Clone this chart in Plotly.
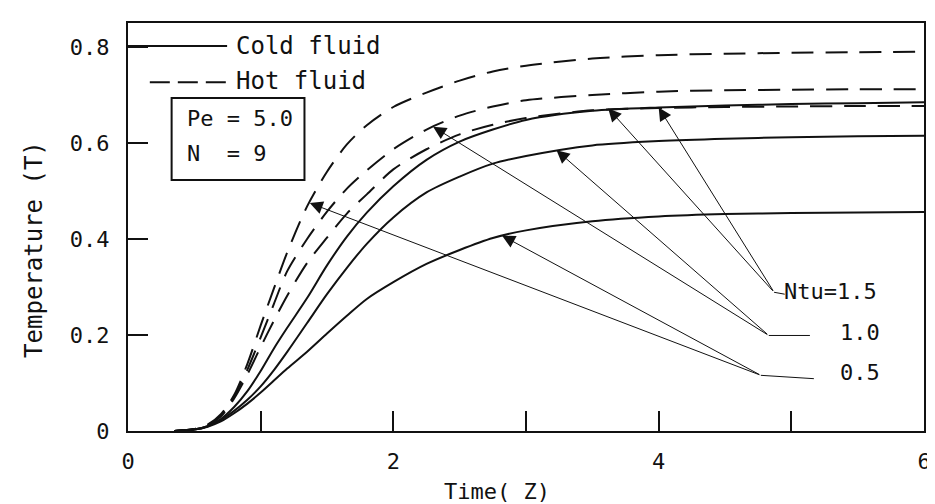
import plotly.graph_objects as go

# Time (Z) sample points
z = [0.35, 0.5, 0.6, 0.7, 0.8, 0.9, 1.0, 1.1, 1.2, 1.35, 1.5, 1.65, 1.8, 2.0,
     2.25, 2.5, 2.75, 3.0, 3.5, 4.0, 4.5, 5.0, 5.5, 6.0]

# Cold fluid (solid) temperatures for Ntu = 0.5, 1.0, 1.5
cold_05 = [0, 0.003, 0.009, 0.02, 0.037, 0.057, 0.08, 0.105, 0.13, 0.165, 0.203, 0.24,
           0.275, 0.31, 0.348, 0.377, 0.402, 0.418, 0.437, 0.447, 0.452, 0.454, 0.455, 0.456]
cold_10 = [0, 0.003, 0.01, 0.023, 0.042, 0.065, 0.093, 0.127, 0.165, 0.225, 0.285, 0.34,
           0.39, 0.445, 0.497, 0.53, 0.557, 0.573, 0.595, 0.604, 0.609, 0.612, 0.614, 0.615]
cold_15 = [0, 0.003, 0.01, 0.025, 0.05, 0.083, 0.125, 0.172, 0.215, 0.277, 0.345, 0.405,
           0.455, 0.51, 0.565, 0.603, 0.628, 0.648, 0.667, 0.674, 0.678, 0.681, 0.683, 0.685]

# Hot fluid (dashed) temperatures for Ntu = 0.5, 1.0, 1.5
hot_05 = [0, 0.004, 0.013, 0.035, 0.075, 0.14, 0.22, 0.297, 0.372, 0.468, 0.54, 0.597,
          0.637, 0.675, 0.705, 0.73, 0.749, 0.761, 0.776, 0.783, 0.786, 0.788, 0.789, 0.79]
hot_10 = [0, 0.004, 0.012, 0.032, 0.072, 0.128, 0.195, 0.265, 0.333, 0.4, 0.457, 0.505,
          0.543, 0.587, 0.628, 0.657, 0.676, 0.689, 0.7, 0.707, 0.71, 0.711, 0.712, 0.712]
hot_15 = [0, 0.004, 0.012, 0.03, 0.068, 0.118, 0.175, 0.23, 0.282, 0.35, 0.403, 0.453,
          0.493, 0.545, 0.587, 0.618, 0.638, 0.652, 0.668, 0.673, 0.675, 0.676, 0.677, 0.677]

# Ntu labels with leader lines (arrow tips on curves, hub, label end)
ntu_labels = ["Ntu=1.5", "1.0", "0.5"]
tip_x = [[3.62, 4.0], [2.30, 3.23], [1.37, 2.82]]
tip_y = [[0.672, 0.674], [0.634, 0.585], [0.475, 0.407]]
hub_x = [4.87, 4.83, 4.77]
hub_y = [0.289, 0.199, 0.116]
end_x = [4.95, 5.14, 5.17]
end_y = [0.285, 0.199, 0.109]
lab_x = [4.93, 5.52, 5.52]
lab_y = [0.29, 0.206, 0.122]

x_tickvals = [0, 1, 2, 3, 4, 5, 6]
x_ticktext = ["0", "", "2", "", "4", "", "6"]
y_tickvals = [0, 0.2, 0.4, 0.6, 0.8]
y_ticktext = ["0", "0.2", "0.4", "0.6", "0.8"]

FONT = "DejaVu Sans Mono, Liberation Mono, monospace"
INK = "#111111"

fig = go.Figure()

for ys in (cold_05, cold_10, cold_15):
    fig.add_trace(go.Scatter(x=z, y=ys, mode="lines", showlegend=False,
                             line=dict(color=INK, width=2, shape="spline", smoothing=0.8)))
for ys in (hot_05, hot_10, hot_15):
    fig.add_trace(go.Scatter(x=z, y=ys, mode="lines", showlegend=False,
                             line=dict(color=INK, width=2, dash="22px,12px",
                                       shape="spline", smoothing=0.8)))

annotations = []
for i, lab in enumerate(ntu_labels):
    # short horizontal leader from hub to the label
    fig.add_trace(go.Scatter(x=[hub_x[i], end_x[i]], y=[hub_y[i], end_y[i]], mode="lines",
                             showlegend=False, line=dict(color=INK, width=1)))
    for tx, ty in zip(tip_x[i], tip_y[i]):
        annotations.append(dict(x=tx, y=ty, ax=hub_x[i], ay=hub_y[i], xref="x", yref="y",
                                axref="x", ayref="y", text="", showarrow=True,
                                arrowhead=2, arrowsize=2.6, arrowwidth=1, arrowcolor=INK,
                                standoff=0))
    annotations.append(dict(x=lab_x[i], y=lab_y[i], xref="x", yref="y", text=lab,
                            showarrow=False, xanchor="left" if i == 0 else "center",
                            yanchor="middle", font=dict(family=FONT, size=22, color=INK)))

# legend (custom, like the original)
shapes = [
    dict(type="line", xref="paper", yref="paper", x0=0.0, x1=0.1245, y0=0.9436, y1=0.9436,
         line=dict(color=INK, width=2)),
    dict(type="line", xref="paper", yref="paper", x0=0.0274, x1=0.1245, y0=0.855, y1=0.855,
         line=dict(color=INK, width=2, dash="20px,8px")),
    dict(type="rect", xref="paper", yref="paper", x0=0.0548, x1=0.2217, y0=0.615, y1=0.816,
         line=dict(color=INK, width=2)),
]
annotations += [
    dict(x=0.133, y=0.9436, xref="paper", yref="paper", text="Cold fluid", showarrow=False,
         xanchor="left", yanchor="middle", font=dict(family=FONT, size=24, color=INK)),
    dict(x=0.133, y=0.857, xref="paper", yref="paper", text="Hot fluid", showarrow=False,
         xanchor="left", yanchor="middle", font=dict(family=FONT, size=24, color=INK)),
    dict(x=0.072, y=0.766, xref="paper", yref="paper", text="Pe = 5.0", showarrow=False,
         xanchor="left", yanchor="middle", font=dict(family=FONT, size=22, color=INK)),
    dict(x=0.072, y=0.68, xref="paper", yref="paper", text="N\u00a0\u00a0= 9", showarrow=False,
         xanchor="left", yanchor="middle", font=dict(family=FONT, size=22, color=INK)),
    dict(x=0.463, y=-0.148, xref="paper", yref="paper", text="Time( Z)", showarrow=False,
         xanchor="center", yanchor="middle", font=dict(family=FONT, size=22, color=INK)),
    dict(x=-0.118, y=0.444, xref="paper", yref="paper", text="Temperature (T)", showarrow=False,
         textangle=-90, xanchor="center", yanchor="middle",
         font=dict(family=FONT, size=24, color=INK)),
]

fig.update_layout(
    width=935, height=504,
    margin=dict(l=120, r=12, t=15, b=81),
    paper_bgcolor="white", plot_bgcolor="white",
    shapes=shapes, annotations=annotations,
    font=dict(family=FONT, size=22, color=INK),
)
fig.update_xaxes(range=[0, 6], tickvals=x_tickvals, ticktext=x_ticktext,
                 ticks="inside", ticklen=20, tickwidth=2, tickcolor=INK,
                 showline=True, linewidth=2, linecolor=INK, mirror=True,
                 showgrid=False, zeroline=False, ticklabelstandoff=10,
                 tickfont=dict(family=FONT, size=22, color=INK))
fig.update_yaxes(range=[0, 0.85], tickvals=y_tickvals, ticktext=y_ticktext,
                 ticks="inside", ticklen=20, tickwidth=2, tickcolor=INK,
                 showline=True, linewidth=2, linecolor=INK, mirror=True,
                 showgrid=False, zeroline=False, ticklabelstandoff=12,
                 tickfont=dict(family=FONT, size=22, color=INK))

fig.write_html("out.html")
